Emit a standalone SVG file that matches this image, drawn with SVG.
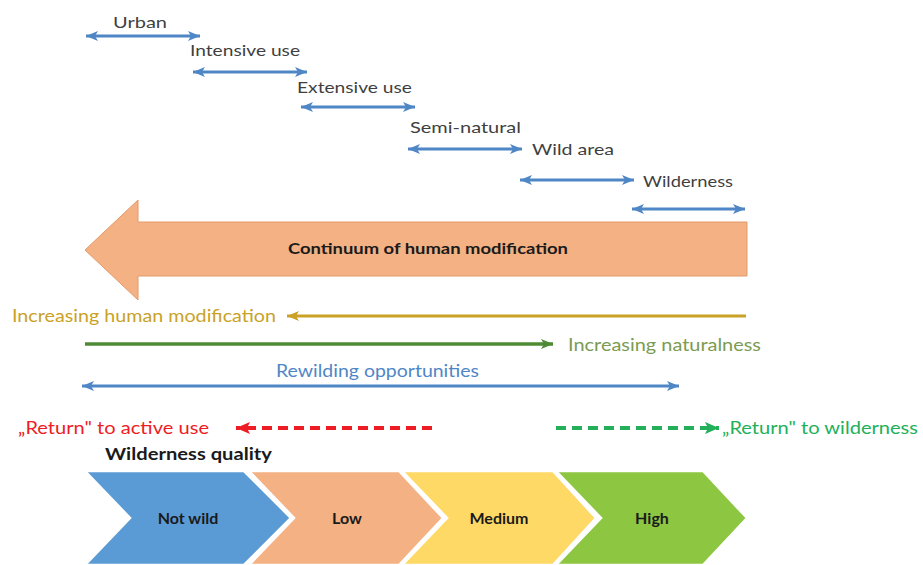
<svg xmlns="http://www.w3.org/2000/svg" width="923" height="565" viewBox="0 0 923 565">
<style>
text{font-family:Lato,"Open Sans","Liberation Sans",sans-serif}
.lbl{font-size:16px;fill:#3f3f3f}
.bl{stroke:#4F86C6;stroke-width:3;fill:none}
.b{font-weight:bold;fill:#1a1a1a}
.cv{stroke:#fff;stroke-width:2.5}
</style>
<defs>
<marker id="bh" markerUnits="userSpaceOnUse" markerWidth="14" markerHeight="12" refX="12" refY="6" orient="auto-start-reverse"><path d="M0,1 L12,6 L0,11 L3,6 Z" fill="#4F86C6"/></marker>
<marker id="gh" markerUnits="userSpaceOnUse" markerWidth="14" markerHeight="12" refX="12" refY="6" orient="auto"><path d="M0,1 L12,6 L0,11 L3,6 Z" fill="#C9A227"/></marker>
<marker id="dgh" markerUnits="userSpaceOnUse" markerWidth="14" markerHeight="12" refX="12" refY="6" orient="auto"><path d="M0,1 L12,6 L0,11 L3,6 Z" fill="#4E8A33"/></marker>
<marker id="rh" markerUnits="userSpaceOnUse" markerWidth="16" markerHeight="14" refX="14" refY="7" orient="auto"><path d="M0,1 L14,7 L0,13 L3,7 Z" fill="#EE1C25"/></marker>
<marker id="lgh" markerUnits="userSpaceOnUse" markerWidth="16" markerHeight="14" refX="14" refY="7" orient="auto"><path d="M0,1 L14,7 L0,13 L3,7 Z" fill="#22B05A"/></marker>
</defs>

<g id="connectors">
<path class="bl" d="M86,36 H200" marker-start="url(#bh)" marker-end="url(#bh)"/>
<path class="bl" d="M193,72 H307" marker-start="url(#bh)" marker-end="url(#bh)"/>
<path class="bl" d="M301,107 H415" marker-start="url(#bh)" marker-end="url(#bh)"/>
<path class="bl" d="M408,149 H522" marker-start="url(#bh)" marker-end="url(#bh)"/>
<path class="bl" d="M520,180 H634" marker-start="url(#bh)" marker-end="url(#bh)"/>
<path class="bl" d="M632,209 H745" marker-start="url(#bh)" marker-end="url(#bh)"/>
<path d="M746,316 H287" stroke="#C9A227" stroke-width="3" fill="none" marker-end="url(#gh)"/>
<path d="M85,344 H553" stroke="#4E8A33" stroke-width="3.5" fill="none" marker-end="url(#dgh)"/>
<path class="bl" d="M82,386 H679" marker-start="url(#bh)" marker-end="url(#bh)"/>
<path d="M432,428 H236" stroke="#EE1C25" stroke-width="4" stroke-dasharray="10,6" fill="none" marker-end="url(#rh)"/>
<path d="M556,428 H719" stroke="#22B05A" stroke-width="4" stroke-dasharray="10,6" fill="none" marker-end="url(#lgh)"/>
</g>

<g id="urban"><text class="lbl" x="113" y="28" textLength="54" lengthAdjust="spacingAndGlyphs">Urban</text></g>
<g id="intensive"><text class="lbl" x="190" y="56" textLength="110" lengthAdjust="spacingAndGlyphs">Intensive use</text></g>
<g id="extensive"><text class="lbl" x="297" y="93" textLength="115" lengthAdjust="spacingAndGlyphs">Extensive use</text></g>
<g id="seminatural"><text class="lbl" x="410" y="133" textLength="111" lengthAdjust="spacingAndGlyphs">Semi-natural</text></g>
<g id="wildarea"><text class="lbl" x="532" y="155" textLength="82" lengthAdjust="spacingAndGlyphs">Wild area</text></g>
<g id="wilderness"><text class="lbl" x="643" y="187" textLength="90" lengthAdjust="spacingAndGlyphs">Wilderness</text></g>

<g id="continuum">
<polygon points="747,222 138,222 138,200 85,250 138,300 138,276 747,276" fill="#F4B183" stroke="#E39A6A" stroke-width="1"/>
<text class="b" x="428" y="254" font-size="15" text-anchor="middle" textLength="280" lengthAdjust="spacingAndGlyphs">Continuum of human modification</text>
</g>

<g id="human-mod"><text x="12" y="322" font-size="17" fill="#C9A227" textLength="264" lengthAdjust="spacingAndGlyphs">Increasing human modification</text></g>
<g id="naturalness"><text x="568" y="351" font-size="17" fill="#7B9B52" textLength="193" lengthAdjust="spacingAndGlyphs">Increasing naturalness</text></g>
<g id="rewilding"><text x="276" y="377" font-size="17" fill="#4F86C6" textLength="203" lengthAdjust="spacingAndGlyphs">Rewilding opportunities</text></g>
<g id="return-active"><text x="18" y="434" font-size="17" fill="#EE1C25" textLength="191" lengthAdjust="spacingAndGlyphs">„Return" to active use</text></g>
<g id="return-wild"><text x="722" y="434" font-size="17" fill="#22B05A" textLength="196" lengthAdjust="spacingAndGlyphs">„Return" to wilderness</text></g>
<g id="quality-title"><text class="b" x="105" y="460" font-size="17" textLength="167" lengthAdjust="spacingAndGlyphs">Wilderness quality</text></g>

<g id="not-wild">
<polygon class="cv" points="85,471 244,471 291,518 244,565 85,565 130,518" fill="#5B9BD5"/>
<text class="b" x="188" y="524" font-size="16" text-anchor="middle" fill="#1b2540">Not wild</text>
</g>
<g id="low">
<polygon class="cv" points="249,471 399,471 443,518 399,565 249,565 294,518" fill="#F4B183"/>
<text class="b" x="347" y="524" font-size="16" text-anchor="middle" fill="#2a1a10">Low</text>
</g>
<g id="medium">
<polygon class="cv" points="402,471 553,471 596,518 553,565 402,565 447,518" fill="#FFD966"/>
<text class="b" x="499" y="524" font-size="16" text-anchor="middle">Medium</text>
</g>
<g id="high">
<polygon class="cv" points="556,471 703,471 747,518 703,565 556,565 601,518" fill="#8DC641"/>
<text class="b" x="652" y="524" font-size="16" text-anchor="middle" fill="#10240a">High</text>
</g>
</svg>
